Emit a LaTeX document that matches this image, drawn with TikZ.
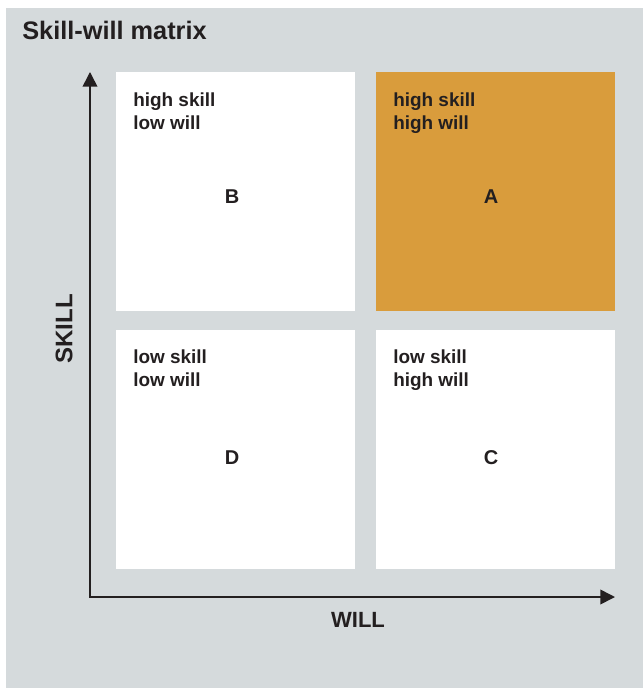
\documentclass[tikz,border=0pt]{standalone}
\usepackage{fontspec}
\setmainfont{Liberation Sans}
\usetikzlibrary{arrows.meta}
\definecolor{bggray}{HTML}{D5DADC}
\definecolor{cellorange}{HTML}{D99C3C}
\definecolor{ink}{HTML}{231F20}
\tikzset{
  cell/.style={fill=white, draw=none, anchor=north west, inner sep=0pt,
    minimum width=179.25pt, minimum height=179.25pt},
  hot/.style={cell, fill=cellorange},
  corner/.style={anchor=north west, align=left, inner sep=0pt, text=ink,
    font=\fontsize{14.2}{17.25}\selectfont\bfseries},
  letter/.style={text=ink, inner sep=0pt, font=\fontsize{15}{16}\selectfont\bfseries},
  axislabel/.style={text=ink, inner sep=0pt, font=\fontsize{16.5}{18}\selectfont\bfseries},
  axis/.style={draw=ink, line width=1.2pt, -{Triangle[length=11pt,width=11pt]}},
}
\begin{document}
\begin{tikzpicture}[x=0.75pt,y=-0.75pt]
\useasboundingbox (0,0) rectangle (643,688);
\fill[bggray] (6,8) rectangle (643,688);
\node[anchor=base west, inner sep=0pt, text=ink, font=\fontsize{19}{22}\selectfont\bfseries] (title) at (22,40) {Skill-will matrix};
\node[cell] (B) at (116,72) {};
\node[hot] (A) at (376,72) {};
\node[cell] (D) at (116,330) {};
\node[cell] (C) at (376,330) {};
\node[corner] (tB) at (133,93) {high skill\\low will};
\node[corner] (tA) at (393,93) {high skill\\high will};
\node[corner] (tD) at (133,350) {low skill\\low will};
\node[corner] (tC) at (393,350) {low skill\\high will};
\node[letter] (lB) at (232,197) {B};
\node[letter] (lA) at (491,197) {A};
\node[letter] (lD) at (232,458) {D};
\node[letter] (lC) at (491,458) {C};
\coordinate (o) at (90,597);
\coordinate (ytip) at (90,72);
\coordinate (xtip) at (615,597);
\draw[axis] (o) -- (ytip);
\draw[axis] ([xshift=-0.6pt]o) -- (xtip);
\node[axislabel, rotate=90, font=\fontsize{18}{20}\selectfont\bfseries] (skill) at (64,329) {SKILL};
\node[axislabel] (will) at (358,620) {WILL};
\end{tikzpicture}
\end{document}
